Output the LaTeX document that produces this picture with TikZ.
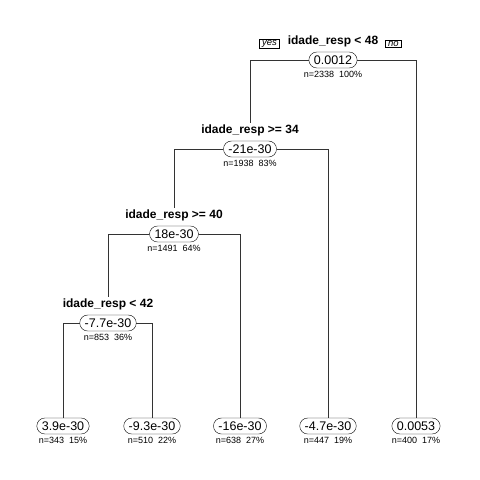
\documentclass[tikz,border=0pt]{standalone}
\usepackage{fontspec}
\setmainfont{Liberation Sans}
\usetikzlibrary{positioning}

\begin{document}
\begin{tikzpicture}[x=1pt, y=-1pt,
    valbox/.style={draw, rounded corners=8pt, minimum height=16pt, inner xsep=5pt, inner ysep=1pt, font=\fontsize{12.5}{14}\selectfont},
    splitlab/.style={font=\fontsize{12}{13}\selectfont\bfseries, inner sep=1pt},
    countlab/.style={font=\fontsize{9}{10}\selectfont, inner sep=1pt},
    ansbox/.style={draw, inner xsep=2.5pt, inner ysep=1pt, font=\fontsize{9.5}{10}\selectfont\itshape},
    edge/.style={draw=black!80, line width=0.8pt}]
    \useasboundingbox (0,0) rectangle (480,480);

    % Root split
    \node[valbox] (v1) at (333,60) {0.0012};
    \node[splitlab, above=4pt of v1] (s1) {idade\_resp < 48};
    \node[countlab, below=2pt of v1] (c1) {n=2338\ \ 100\%};
    \node[ansbox, left=7pt of s1, yshift=-3pt] (yes) {yes};
    \node[ansbox, right=6pt of s1, yshift=-3pt] (no) {no};

    % Second split
    \node[valbox] (v2) at (250,149) {-21e-30};
    \node[splitlab, above=4pt of v2] (s2) {idade\_resp >= 34};
    \node[countlab, below=2pt of v2] (c2) {n=1938\ \ 83\%};

    % Third split
    \node[valbox] (v3) at (174,234) {18e-30};
    \node[splitlab, above=4pt of v3] (s3) {idade\_resp >= 40};
    \node[countlab, below=2pt of v3] (c3) {n=1491\ \ 64\%};

    % Fourth split
    \node[valbox] (v4) at (108,323) {-7.7e-30};
    \node[splitlab, above=4pt of v4] (s4) {idade\_resp < 42};
    \node[countlab, below=2pt of v4] (c4) {n=853\ \ 36\%};

    % Leaves
    \node[valbox] (l1) at (63,426) {3.9e-30};
    \node[countlab, below=2pt of l1] (d1) {n=343\ \ 15\%};
    \node[valbox] (l2) at (152,426) {-9.3e-30};
    \node[countlab, below=2pt of l2] (d2) {n=510\ \ 22\%};
    \node[valbox] (l3) at (240,426) {-16e-30};
    \node[countlab, below=2pt of l3] (d3) {n=638\ \ 27\%};
    \node[valbox] (l4) at (328,426) {-4.7e-30};
    \node[countlab, below=2pt of l4] (d4) {n=447\ \ 19\%};
    \node[valbox] (l5) at (416,426) {0.0053};
    \node[countlab, below=2pt of l5] (d5) {n=400\ \ 17\%};

    % Branches
    \draw[edge] (v1.west) -| (s2.north);
    \draw[edge] (v1.east) -| (l5.north);
    \draw[edge] (v2.west) -| (s3.north);
    \draw[edge] (v2.east) -| (l4.north);
    \draw[edge] (v3.west) -| (s4.north);
    \draw[edge] (v3.east) -| (l3.north);
    \draw[edge] (v4.west) -| (l1.north);
    \draw[edge] (v4.east) -| (l2.north);
\end{tikzpicture}
\end{document}
